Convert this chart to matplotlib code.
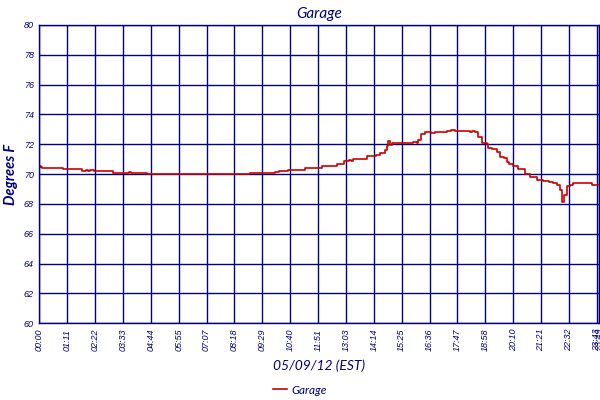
import matplotlib
matplotlib.use("Agg")
import matplotlib.pyplot as plt

# garage temperature log, minutes after midnight -> degrees F
minutes = [0, 2, 4, 7, 25, 30, 60, 75, 80, 109, 120, 125, 130, 140, 150, 189,
           200, 230, 235, 245, 275, 538, 560, 602, 612, 635, 678, 722, 760,
           778, 790, 795, 802, 837, 860, 870, 883, 888, 891, 895, 900, 930,
           954, 963, 967, 975, 985, 1000, 1010, 1041, 1050, 1060, 1100, 1105,
           1112, 1120, 1129, 1142, 1146, 1155, 1168, 1176, 1185, 1193, 1200,
           1210, 1223, 1240, 1253, 1270, 1287, 1300, 1312, 1321, 1329, 1335,
           1340, 1346, 1355, 1363, 1410, 1429]
temps = [70.46, 70.57, 70.46, 70.40, 70.43, 70.40, 70.33, 70.36, 70.33, 70.22,
         70.25, 70.22, 70.25, 70.22, 70.22, 70.07, 70.07, 70.17, 70.07, 70.07,
         70.00, 70.07, 70.07, 70.17, 70.24, 70.29, 70.38, 70.51, 70.71,
         70.89, 70.96, 70.89, 71.04, 71.22, 71.30, 71.40, 71.60, 71.90, 72.22,
         71.97, 72.07, 72.07, 72.15, 72.07, 72.29, 72.70, 72.84, 72.75, 72.84,
         72.91, 72.95, 72.91, 72.80, 72.91, 72.80, 72.47, 72.07, 72.00, 71.77,
         71.65, 71.50, 71.17, 71.05, 70.84, 70.70, 70.51, 70.33, 70.00, 69.80,
         69.62, 69.51, 69.45, 69.40, 69.29, 68.95, 68.11, 68.62, 69.17, 69.29,
         69.40, 69.29, 69.29]

tick_labels = ["00:00", "01:11", "02:22", "03:33", "04:44", "05:55", "07:07",
               "08:18", "09:29", "10:40", "11:51", "13:03", "14:14", "15:25",
               "16:36", "17:47", "18:58", "20:10", "21:21", "22:32", "23:43",
               "23:49"]
tick_minutes = [i * 71.15 for i in range(21)] + [1429]

navy = "#000080"
red = "#cc0000"

fig = plt.figure(figsize=(6, 4), dpi=100)
ax = fig.add_axes([0.0655, 0.192, 0.933, 0.7455])

ax.plot(minutes, temps, color=red, lw=1.2, drawstyle="steps-post", label="Garage")

ax.set_xlim(0, 1429)
ax.set_ylim(60, 80)
ax.set_yticks(range(60, 81, 2))
ax.set_xticks(tick_minutes)
ax.set_xticklabels(tick_labels, rotation=90, fontsize=6.5, style="italic",
                   color=navy, family="Liberation Sans")
for lab in ax.get_yticklabels():
    lab.set_fontsize(6.5)
    lab.set_style("italic")
    lab.set_color(navy)
    lab.set_family("Liberation Sans")
ax.tick_params(length=0, pad=4)
ax.grid(True, color=navy, lw=1)
ax.set_axisbelow(True)
for s in ax.spines.values():
    s.set_color(navy)
    s.set_linewidth(1)

ax.set_title("Garage", fontsize=11, style="italic", color=navy, family="Lato",
             pad=5)
ax.set_ylabel("Degrees F", fontsize=10.5, style="italic", weight="bold",
              color=navy, family="Lato", labelpad=4)
ax.set_xlabel("05/09/12 (EST)", fontsize=10, style="italic", color=navy,
              family="Lato", labelpad=6)

leg = fig.legend(loc="center", bbox_to_anchor=(0.5, 0.025), frameon=False,
                 prop={"family": "Lato", "style": "italic", "size": 8.5},
                 handlelength=1.2, handletextpad=0.4)
for t in leg.get_texts():
    t.set_color(navy)

fig.savefig("out.png", dpi=100)
